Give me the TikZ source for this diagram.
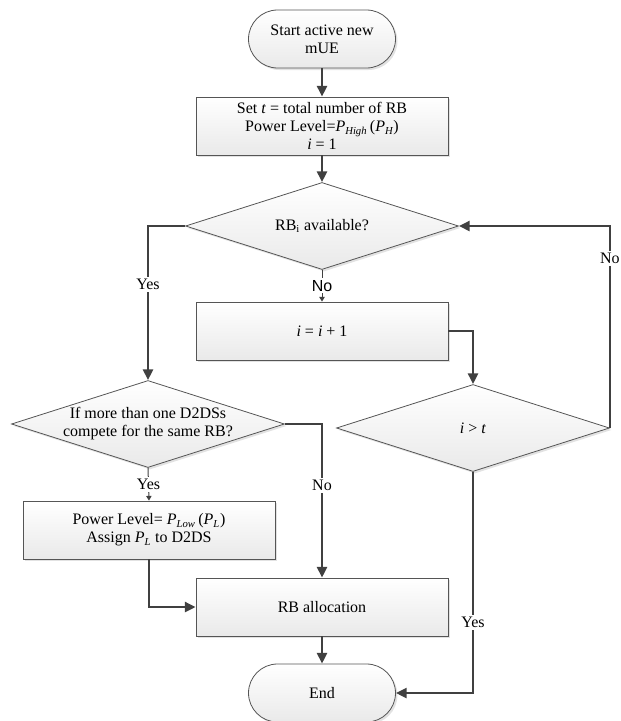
\documentclass[tikz,border=0pt]{standalone}
\usepackage{fontspec}
\setmainfont{Liberation Serif}
\newfontfamily\sanslab{Liberation Sans}
\usetikzlibrary{shapes.geometric,arrows.meta,shadows}
\definecolor{linegray}{HTML}{404040}
\definecolor{edgegray}{HTML}{555555}

\begin{document}
\begin{tikzpicture}[x=0.75pt,y=-0.75pt,>={Triangle[width=7.5pt,length=8pt]},font=\fontsize{12}{13.5}\selectfont]
\tikzset{
  base/.style={draw=edgegray,line width=0.6pt,top color=white,bottom color=gray!17,
    drop shadow={shadow xshift=1.5pt,shadow yshift=-1.5pt,fill=gray!45,opacity=0.5},
    align=center,inner sep=0pt},
  terminal/.style={base,rectangle,rounded corners=21.75pt,minimum width=110.25pt,minimum height=43.5pt},
  process/.style={base,rectangle,minimum width=189pt,minimum height=43.5pt},
  decision/.style={base,diamond,aspect=3.14,minimum width=204.75pt,minimum height=65.25pt},
  flow/.style={draw=linegray,line width=1.5pt,->},
  thinflow/.style={draw=linegray,line width=0.75pt,-{Triangle[width=4pt,length=3.5pt]}},
  lab/.style={fill=white,inner sep=1.5pt}
}
\useasboundingbox (0,0) rectangle (621,721);
\node[terminal] (start) at (322,39) {Start active new\\mUE};
\node[process] (init) at (322,126) {Set \textit{t} = total number of RB\\Power Level=\textit{P\textsubscript{High}}\,(\textit{P\textsubscript{H}})\\\textit{i} = 1};
\node[decision] (avail) at (322,226) {RB\textsubscript{i} available?};
\node[process] (incr) at (322,331) {\textit{i} = \textit{i} + 1};
\node[decision] (check) at (473,428) {\textit{i} > \textit{t}};
\node[decision] (compete) at (148,424) {If more than one D2DSs\\compete for the same RB?};
\node[process] (lowpow) at (149,530) {Power Level= \textit{P\textsubscript{Low}}\,(\textit{P\textsubscript{L}})\\Assign \textit{P\textsubscript{L}} to D2DS};
\node[process] (alloc) at (322,607) {RB allocation};
\node[terminal] (stop) at (322,693) {End};

\draw[flow] (start) -- (init);
\draw[flow] (init) -- (avail);
\draw[flow] (avail.west) -| node[lab,pos=0.69] {Yes} (compete.north);
\draw[thinflow] (avail.south) -- node[lab,font=\sanslab\fontsize{12}{13.5}\selectfont] {No} (incr.north);
\draw[flow] (incr.east) -| (check.north);
\draw[flow] (check.east) |- node[lab,pos=0.42] {No} (avail.east);
\draw[thinflow] (compete.south) -- node[lab] {Yes} (lowpow.north);
\draw[flow] (compete.east) -| node[lab,pos=0.7] {No} (alloc.north);
\draw[flow] (lowpow.south) |- (alloc.west);
\draw[flow] (alloc) -- (stop);
\draw[flow] (check.south) |- node[lab,pos=0.34] {Yes} (stop.east);
\end{tikzpicture}
\end{document}
